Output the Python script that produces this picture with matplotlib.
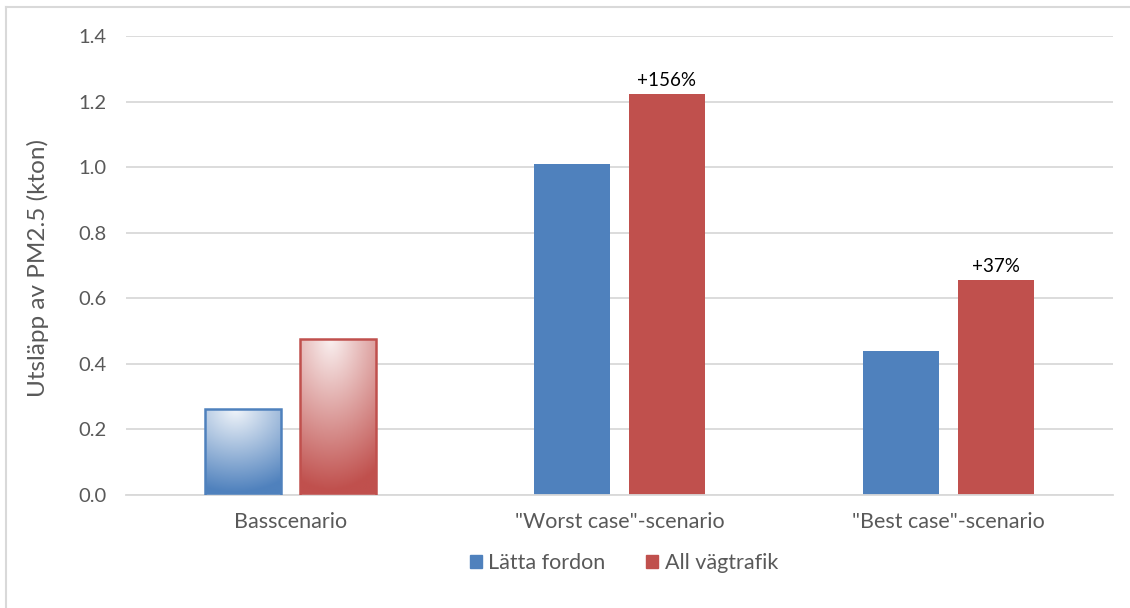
import numpy as np
import matplotlib
matplotlib.use("Agg")
import matplotlib.pyplot as plt
from matplotlib.lines import Line2D
from matplotlib.patches import Patch

categories = ["Basscenario", "\"Worst case\"-scenario", "\"Best case\"-scenario"]
series_names = ["Lätta fordon", "All vägtrafik"]
latta = [0.262, 1.009, 0.439]
all_vag = [0.476, 1.223, 0.656]
annotations = ["", "+156%", "+37%"]
yticks = [0.0, 0.2, 0.4, 0.6, 0.8, 1.0, 1.2, 1.4]

blue = "#4F81BD"
red = "#C0504D"
gray = "#595959"
font = "Lato"

fig = plt.figure(figsize=(11.3, 6.08), dpi=100)
ax = fig.add_axes([126/1130, 1-495/608, (1113-126)/1130, (495-36)/608])

x = np.arange(len(categories))
w = 0.231
off = 0.143

def gradient_bar(ax, rect, color):
    c = np.array(matplotlib.colors.to_rgb(color))
    ny, nx = 200, 60
    t = np.linspace(0, 1, ny)[:, None]  # 0 top -> 1 bottom
    s = np.linspace(0, 1, nx)[None, :]
    r = np.sqrt(((s - 0.4) * 0.8) ** 2 + (t * 1.0) ** 2)
    f = np.clip(0.08 + 0.95 * r, 0, 1)
    img = np.ones((ny, nx, 3)) * (1 - f[..., None]) + c[None, None, :] * f[..., None]
    x0, y0 = rect.get_x(), rect.get_y()
    x1, y1 = x0 + rect.get_width(), y0 + rect.get_height()
    im = ax.imshow(img, extent=[x0, x1, y0, y1], origin="upper", aspect="auto", zorder=2)
    im.set_clip_path(rect)

bars1 = ax.bar(x - off, latta, w, color=blue, zorder=2)
bars2 = ax.bar(x + off, all_vag, w, color=red, zorder=2)

for bars, col in ((bars1, blue), (bars2, red)):
    b = bars[0]
    b.set_facecolor("none")
    b.set_edgecolor(col)
    b.set_linewidth(1.8)
    b.set_zorder(3)
    gradient_bar(ax, b, col)

for i, a in enumerate(annotations):
    if a:
        ax.text(x[i] + off, all_vag[i] + 0.016, a, ha="center", va="bottom",
                fontsize=13.5, color="black", family=font)

ax.set_xlim(-0.5, 2.5)
ax.set_ylim(0, 1.4)
ax.set_yticks(yticks)
ax.set_yticklabels([f"{v:.1f}" for v in yticks], fontsize=14.5, color=gray, family=font)
ax.set_xticks(x)
ax.set_xticklabels(categories, fontsize=15.5, color=gray, family=font)
ax.tick_params(axis="y", length=0, pad=14)
ax.tick_params(axis="x", length=0, pad=12)
ax.yaxis.grid(True, color="#D9D9D9", linewidth=1.3)
ax.set_axisbelow(True)
for sp in ax.spines.values():
    sp.set_visible(False)
ax.spines["bottom"].set_visible(True)
ax.spines["bottom"].set_color("#D9D9D9")
ax.spines["bottom"].set_linewidth(1.3)

fig.text(38/1130, 1-268/608, "Utsläpp av PM2.5 (kton)", rotation=90, ha="center", va="center",
         fontsize=17.5, color=gray, family=font)

handles = [Patch(facecolor=blue, edgecolor=blue), Patch(facecolor=red, edgecolor=red)]
fig.legend(handles, series_names, loc="center", bbox_to_anchor=(624/1130, 1-563/608), ncol=2,
           frameon=False, prop={"family": font, "size": 15.5}, labelcolor=gray,
           handlelength=0.55, handleheight=0.55, handletextpad=0.3, columnspacing=1.9)

fig.add_artist(Line2D([6/1130, 6/1130], [0, 1-7/608], color="#D9D9D9", linewidth=1.5, transform=fig.transFigure))
fig.add_artist(Line2D([6/1130, 1], [1-7/608, 1-7/608], color="#D9D9D9", linewidth=1.5, transform=fig.transFigure))

fig.savefig("out.png", dpi=100)
